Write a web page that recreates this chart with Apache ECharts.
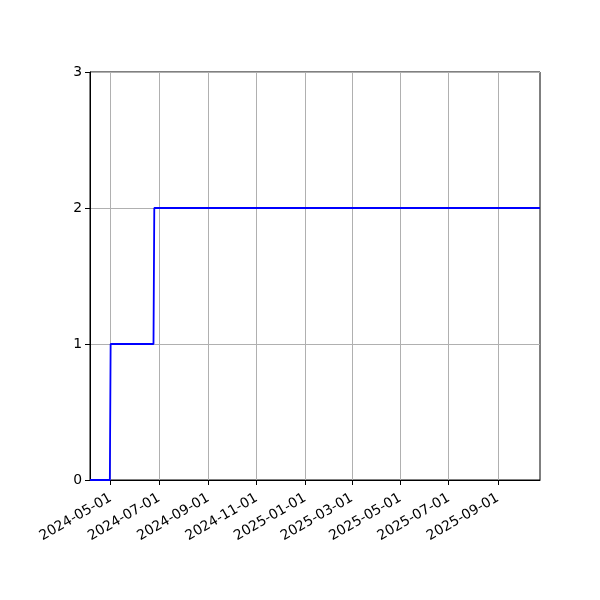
<!DOCTYPE html>
<html>
<head>
<meta charset="utf-8">
<script src="https://cdn.jsdelivr.net/npm/echarts@6/dist/echarts.min.js"></script>
<style>html,body{margin:0;padding:0;background:#fff}#c{width:600px;height:600px}</style>
</head>
<body>
<div id="c"></div>
<script>
var dates = ['2024-04-05', '2024-04-30', '2024-05-01', '2024-06-24', '2024-06-25', '2025-10-24'];
var values = [0, 0, 1, 1, 2, 2];
var tickDates = ['2024-05-01', '2024-07-01', '2024-09-01', '2024-11-01', '2025-01-01', '2025-03-01', '2025-05-01', '2025-07-01', '2025-09-01'];
var yTicks = [0, 1, 2, 3];

function ts(s) { return Date.parse(s + 'T00:00:00Z'); }
function fmt(v) {
  var d = new Date(v);
  var m = d.getUTCMonth() + 1, dd = d.getUTCDate();
  return d.getUTCFullYear() + '-' + (m < 10 ? '0' : '') + m + '-' + (dd < 10 ? '0' : '') + dd;
}
var tickVals = tickDates.map(ts);
var seriesData = dates.map(function (d, i) { return [ts(d), values[i]]; });

var chart = echarts.init(document.getElementById('c'), null, { renderer: 'canvas' });
chart.setOption({
  animation: false,
  grid: { left: 90, right: 60, top: 72, bottom: 120, show: true, borderColor: '#000', borderWidth: 1, backgroundColor: 'transparent' },
  xAxis: {
    type: 'value',
    min: ts(dates[0]),
    max: ts(dates[dates.length - 1]),
    axisLine: { show: true, onZero: false, lineStyle: { color: '#000', width: 1 } },
    axisTick: { show: true, customValues: tickVals, length: 5, lineStyle: { color: '#000' } },
    axisLabel: { customValues: tickVals, formatter: function (v) { return fmt(v); }, rotate: 30, color: '#000', fontSize: 13.9, fontFamily: 'DejaVu Sans', margin: 17 },
    splitLine: { show: true, lineStyle: { color: '#b0b0b0', width: 1 } }
  },
  yAxis: {
    type: 'value',
    min: yTicks[0],
    max: yTicks[yTicks.length - 1],
    interval: 1,
    axisLine: { show: true, lineStyle: { color: '#000', width: 1 } },
    axisTick: { show: true, length: 5, lineStyle: { color: '#000' } },
    axisLabel: { color: '#000', fontSize: 13.9, fontFamily: 'DejaVu Sans', margin: 8 },
    splitLine: { show: true, lineStyle: { color: '#b0b0b0', width: 1 } }
  },
  series: [{
    type: 'line',
    data: seriesData,
    showSymbol: false,
    lineStyle: { color: '#0000ff', width: 1.8 },
    itemStyle: { color: '#0000ff' },
    z: 5
  }]
});
</script>
</body>
</html>
